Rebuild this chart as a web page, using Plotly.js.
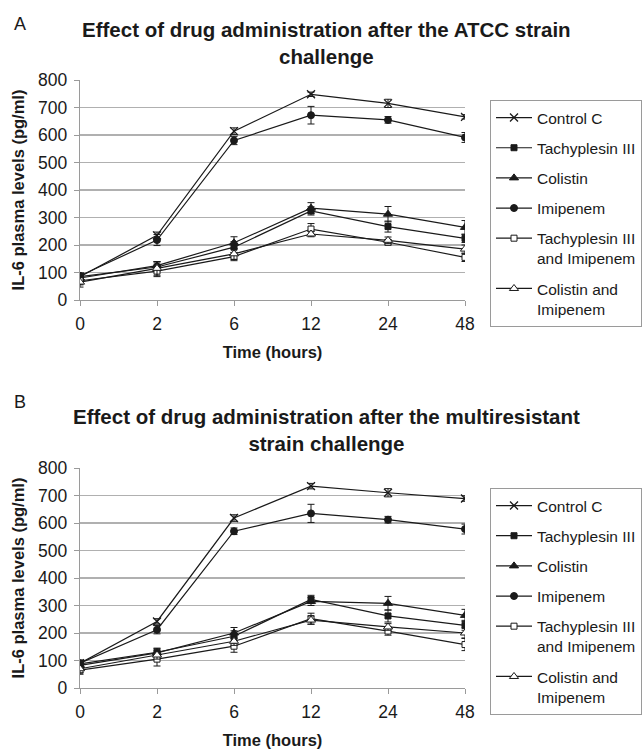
<!DOCTYPE html>
<html><head><meta charset="utf-8">
<script src="https://cdn.plot.ly/plotly-3.0.1.min.js"></script>
<style>html,body{margin:0;padding:0;background:#fff}</style>
</head><body><div id="chart" style="width:644px;height:749px"></div>
<script>
// ---- data ----
const timeLabels = ["0", "2", "6", "12", "24", "48"];
const seriesNames = ["Control C", "Tachyplesin III", "Colistin", "Imipenem", "Tachyplesin III<br>and Imipenem", "Colistin and<br>Imipenem"];

// Panel A: ATCC strain
const controlA   = [85, 235, 614, 748, 715, 666];
const tachyA     = [85, 120, 192, 324, 267, 224];
const colistinA  = [80, 125, 208, 334, 312, 264];
const imipenemA  = [88, 218, 580, 672, 655, 591];
const tachyImiA  = [70, 105, 158, 258, 210, 155];
const colImiA    = [65, 115, 168, 240, 217, 185];
const controlA_err  = [10, 12, 12, 8, 15, 8];
const tachyA_err    = [12, 15, 20, 15, 20, 15];
const colistinA_err = [12, 15, 22, 20, 28, 25];
const imipenemA_err = [10, 20, 15, 32, 12, 18];
const tachyImiA_err = [15, 20, 15, 20, 10, 15];
const colImiA_err   = [18, 25, 20, 10, 12, 15];

// Panel B: multiresistant strain
const controlB   = [90, 242, 618, 734, 710, 689];
const tachyB     = [88, 130, 188, 322, 262, 228];
const colistinB  = [82, 128, 200, 315, 308, 264];
const imipenemB  = [90, 212, 570, 635, 612, 578];
const tachyImiB  = [65, 105, 152, 252, 207, 158];
const colImiB    = [70, 120, 170, 247, 222, 200];
const controlB_err  = [10, 10, 12, 10, 15, 10];
const tachyB_err    = [12, 15, 20, 15, 22, 18];
const colistinB_err = [12, 15, 20, 15, 25, 22];
const imipenemB_err = [12, 15, 12, 33, 12, 18];
const tachyImiB_err = [15, 25, 22, 20, 15, 22];
const colImiB_err   = [15, 15, 15, 15, 12, 18];

const titleA = "<b>Effect of drug administration after the ATCC strain<br>challenge</b>";
const titleB = "<b>Effect of drug administration after the multiresistant<br>strain challenge</b>";
const xTitle = "<b>Time (hours)</b>";
const yTitle = "<b>IL-6 plasma levels (pg/ml)</b>";

// ---- styles ----
const INK = '#1a1a1a';
const markerStyles = [
  {symbol: 'x-thin-open', size: 8, color: INK, line: {color: INK, width: 1.3}},
  {symbol: 'square', size: 6, color: INK, line: {color: INK, width: 1}},
  {symbol: 'triangle-up', size: 8, color: INK, line: {color: INK, width: 1}},
  {symbol: 'circle', size: 7, color: INK, line: {color: INK, width: 1}},
  {symbol: 'square', size: 6, color: '#fff', line: {color: INK, width: 1}},
  {symbol: 'triangle-up', size: 8, color: '#fff', line: {color: INK, width: 1}}
];

const W = 644, H = 749;
const L = 80, R = 465;
const px = v => (v - L) / (R - L);
const py = v => 1 - v / H;

function makeTraces(vals, errs, xa, ya, leg, tag) {
  return vals.map((v, i) => ({
    type: 'scatter', mode: 'lines+markers',
    x: timeLabels, y: v, xaxis: xa, yaxis: ya,
    name: seriesNames[i], legend: leg, legendgroup: tag + i,
    line: {color: INK, width: 1.2},
    marker: markerStyles[i],
    error_y: {type: 'data', array: errs[i], visible: true, color: INK, thickness: 1, width: 3.5},
    hoverinfo: 'skip'
  }));
}

const traces = [
  ...makeTraces([controlA, tachyA, colistinA, imipenemA, tachyImiA, colImiA],
    [controlA_err, tachyA_err, colistinA_err, imipenemA_err, tachyImiA_err, colImiA_err], 'x', 'y', 'legend', 'A'),
  ...makeTraces([controlB, tachyB, colistinB, imipenemB, tachyImiB, colImiB],
    [controlB_err, tachyB_err, colistinB_err, imipenemB_err, tachyImiB_err, colImiB_err], 'x2', 'y2', 'legend2', 'B')
];

const tickFont = {size: 17.5, color: INK};
function xAxis(anchor) {
  return {
    anchor: anchor, domain: [0, 1], type: 'category', range: [0, 5],
    showline: true, linecolor: '#9a9a9a', linewidth: 1.2,
    ticks: 'outside', ticklen: 5, tickcolor: '#9a9a9a',
    tickfont: tickFont, ticklabelstandoff: 3,
    showgrid: false, zeroline: false, fixedrange: true,
    title: {text: xTitle, font: {size: 16.5, color: INK}, standoff: 13}
  };
}
function yAxis(anchor, dom) {
  return {
    anchor: anchor, domain: dom, range: [0, 800], tick0: 0, dtick: 100,
    showline: true, linecolor: '#9a9a9a', linewidth: 1.2,
    ticks: 'outside', ticklen: 5, tickcolor: '#9a9a9a',
    tickfont: tickFont, ticklabelstandoff: 3,
    showgrid: false, zeroline: false, fixedrange: true, automargin: false,
    title: {text: yTitle, font: {size: 16.5, color: INK}, standoff: 9}
  };
}
function gridAxis(over, dom) {
  return {
    overlaying: over, domain: dom, range: [0, 800],
    tickvals: [100, 200, 300, 400, 500, 600, 700],
    showticklabels: false, ticks: '', showgrid: true,
    gridcolor: '#b0b0b0', gridwidth: 1.3, zeroline: false, showline: false, fixedrange: true
  };
}

const domA = [py(300), py(80)];
const domB = [py(688), py(468)];

function legendCfg(topPx) {
  return {
    x: px(490), xanchor: 'left', y: py(topPx), yanchor: 'top',
    bordercolor: '#9a9a9a', borderwidth: 1, bgcolor: '#fff',
    font: {size: 15.5, color: INK}, tracegroupgap: 7, itemwidth: 36, valign: 'top'
  };
}

const layout = {
  width: W, height: H,
  margin: {l: L, r: W - R, t: 0, b: 0},
  paper_bgcolor: '#fff', plot_bgcolor: 'rgba(0,0,0,0)',
  font: {family: '"Liberation Sans", Arial, sans-serif', color: INK},
  showlegend: true,
  xaxis: xAxis('y'),
  yaxis: yAxis('x', domA),
  xaxis2: xAxis('y2'),
  yaxis2: yAxis('x2', domB),
  yaxis3: gridAxis('y', domA),
  yaxis4: gridAxis('y2', domB),
  legend: legendCfg(100),
  legend2: legendCfg(488),
  annotations: [
    {text: titleA, xref: 'paper', yref: 'paper', x: px(326), y: py(42.5), xanchor: 'center', yanchor: 'middle', showarrow: false, font: {size: 20.5, color: INK}},
    {text: titleB, xref: 'paper', yref: 'paper', x: px(326), y: py(429.5), xanchor: 'center', yanchor: 'middle', showarrow: false, font: {size: 20.5, color: INK}},
    {text: 'A', xref: 'paper', yref: 'paper', x: px(20), y: py(24), xanchor: 'center', yanchor: 'middle', showarrow: false, font: {size: 18, color: INK}},
    {text: 'B', xref: 'paper', yref: 'paper', x: px(20), y: py(402), xanchor: 'center', yanchor: 'middle', showarrow: false, font: {size: 18, color: INK}}
  ]
};

// grid axes need a trace reference to be drawn
traces.push({type: 'scatter', x: [], y: [], xaxis: 'x', yaxis: 'y3', showlegend: false, hoverinfo: 'skip'});
traces.push({type: 'scatter', x: [], y: [], xaxis: 'x2', yaxis: 'y4', showlegend: false, hoverinfo: 'skip'});

Plotly.newPlot('chart', traces, layout, {displayModeBar: false, staticPlot: true});
</script>
</body></html>
